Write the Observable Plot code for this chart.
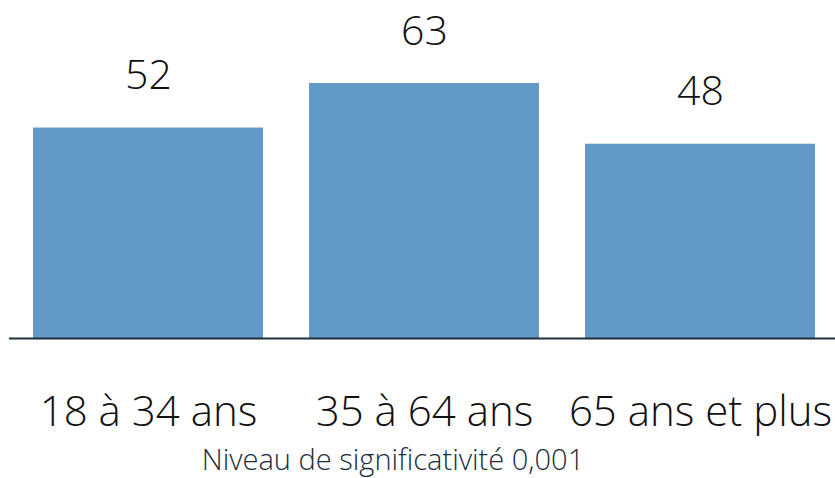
<!DOCTYPE html>
<html>
<head>
<meta charset="utf-8">
<script src="https://cdn.jsdelivr.net/npm/d3@7"></script>
<script src="https://cdn.jsdelivr.net/npm/@observablehq/plot@0.6"></script>
<style>
  html, body { margin: 0; padding: 0; background: #fff; }
  #wrap { position: relative; width: 835px; height: 478px; font-family: "Open Sans", Lato, sans-serif; }
  #caption { position: absolute; left: 0; width: 786px; top: 439px; text-align: center; font-size: 29px; font-weight: 300; color: #1a2e3b; line-height: 39px; white-space: nowrap; }
</style>
</head>
<body>
<div id="wrap">
  <div id="chart"></div>
  <div id="caption">Niveau de significativité 0,001</div>
</div>
<script>
const categories = ["18 à 34 ans", "35 à 64 ans", "65 ans et plus"];
const values = [52, 63, 48];
const data = categories.map((c, i) => ({category: c, value: values[i]}));

const chart = Plot.plot({
  width: 835,
  height: 439,
  marginLeft: 9,
  marginRight: -3.5,
  marginTop: 83,
  marginBottom: 101,
  style: {fontFamily: "'Open Sans', Lato, sans-serif", fontWeight: 300, color: "#111", overflow: "visible"},
  x: {domain: categories, paddingInner: 0.168, paddingOuter: 0.083, label: null, tickSize: 0, tickPadding: 58},
  y: {domain: [0, 63], axis: null},
  marks: [
    Plot.barY(data, {x: "category", y: "value", fill: "#6399c7"}),
    Plot.ruleY([0], {stroke: "#1a2e3b", strokeWidth: 2}),
    Plot.text(data, {x: "category", y: "value", text: d => String(d.value), dy: -52, fontSize: 41, fill: "#111"}),
    Plot.axisX({tickSize: 0, tickPadding: 58, fontSize: 42, label: null, style: {letterSpacing: "1.5px"}})
  ]
});
document.getElementById("chart").appendChild(chart);
</script>
</body>
</html>
